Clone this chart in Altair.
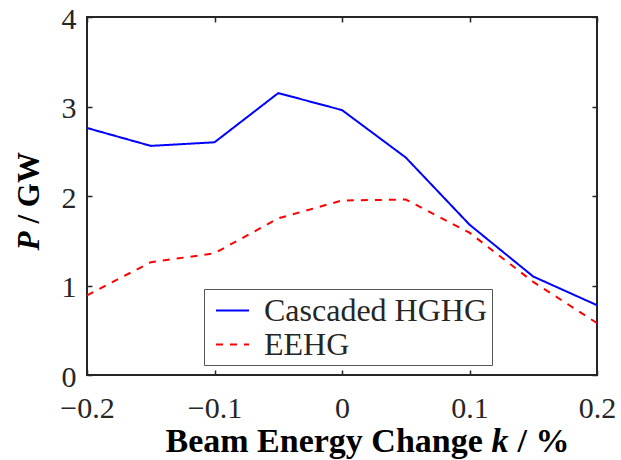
import altair as alt
import pandas as pd

# ---- data ----
k_values = [-0.2, -0.15, -0.1, -0.05, 0.0, 0.05, 0.1, 0.15, 0.2]
hghg_power = [2.76, 2.56, 2.60, 3.15, 2.96, 2.43, 1.68, 1.10, 0.78]
eehg_power = [0.89, 1.26, 1.36, 1.75, 1.95, 1.96, 1.59, 1.04, 0.58]
series_names = ["Cascaded HGHG", "EEHG"]
x_ticks = [-0.2, -0.1, 0, 0.1, 0.2]
y_ticks = [0, 1, 2, 3, 4]

rows = []
for name, vals in zip(series_names, [hghg_power, eehg_power]):
    for k, p in zip(k_values, vals):
        rows.append({"k": k, "P": p, "series": name})
df = pd.DataFrame(rows)

W, H = 510, 358
FONT = "Liberation Serif"
INK = "#262626"
XT = 34   # x title font size
YT = 31   # y title font size

xs = alt.Scale(domain=[-0.2, 0.2], nice=False, zero=False)
ys = alt.Scale(domain=[0, 4], nice=False, zero=True)

legend = alt.Legend(
    orient="none", legendX=117, legendY=272, title=None, direction="vertical",
    labelFont=FONT, labelFontSize=32, labelColor=INK, labelLimit=500,
    symbolType="stroke", symbolSize=1089, symbolStrokeWidth=2, symbolOffset=7,
    labelOffset=14, padding=4, rowPadding=0,
    strokeColor="#555555", fillColor="white", cornerRadius=0,
)

color = alt.Color("series:N", scale=alt.Scale(domain=series_names, range=["#0000ff", "#ff0000"]), legend=legend)
dash = alt.StrokeDash("series:N", scale=alt.Scale(domain=series_names, range=[[1, 0], [7, 7]]), legend=legend)

title_style = dict(titleFont=FONT, titleFontWeight="bold", titleColor="black",
                   titleBaseline="alphabetic", titleAlign="left")

main = alt.Chart(df).mark_line(strokeWidth=2).encode(
    x=alt.X("k:Q", scale=xs, axis=alt.Axis(
        orient="bottom", values=x_ticks, format="~g", ticks=False, tickSize=0, domain=False, grid=False,
        labelFont=FONT, labelFontSize=30, labelColor=INK, labelPadding=18, labelBaseline="top",
        labelFlush=False, labelOverlap=False,
        title="Beam Energy Change", titleFontSize=XT, titleX=78, titleY=76, **title_style)),
    y=alt.Y("P:Q", scale=ys, axis=alt.Axis(
        orient="left", values=y_ticks, format="d", ticks=False, tickSize=0, domain=False, grid=False,
        labelFont=FONT, labelFontSize=30, labelColor=INK, labelPadding=11, labelBaseline="middle",
        labelOffset=2, labelFlush=False, labelOverlap=False,
        title="/ GW", titleFontSize=YT, titleX=-49, titleY=206, titleAngle=270, **title_style)),
    color=color,
    strokeDash=dash,
)

tick_style = dict(ticks=True, tickSize=5, tickWidth=1.5, tickColor=INK, labels=False,
                  domain=False, grid=False)

# inward ticks on the bottom and left edges (plus italic title parts)
ticks_b = alt.Chart(df).mark_line(opacity=0).encode(
    x=alt.X("k:Q", scale=xs, axis=alt.Axis(
        orient="top", offset=-H, values=x_ticks, **tick_style,
        title="k", titleFontSize=XT, titleFontStyle="italic", titleX=404, titleY=76, **title_style)),
    y=alt.Y("P:Q", scale=ys, axis=alt.Axis(
        orient="right", offset=-W, values=y_ticks, **tick_style,
        title="P", titleFontSize=YT, titleFontStyle="italic", titleX=-49, titleY=233,
        titleAngle=270, **title_style)),
    detail="series:N",
)
# inward ticks on the top and right edges (plus the end of the x title)
ticks_t = alt.Chart(df).mark_line(opacity=0).encode(
    x=alt.X("k:Q", scale=xs, axis=alt.Axis(
        orient="bottom", offset=-H, values=x_ticks, **tick_style,
        title="/ %", titleFontSize=XT, titleX=430, titleY=76 + H, **title_style)),
    y=alt.Y("P:Q", scale=ys, axis=alt.Axis(
        orient="left", offset=-W, values=y_ticks, **tick_style, title=None)),
    detail="series:N",
)

chart = alt.layer(main, ticks_b, ticks_t).resolve_axis(
    x="independent", y="independent"
).properties(
    width=W, height=H,
    autosize=alt.AutoSizeParams(type="none"),
    padding={"left": 87, "top": 17, "right": 24, "bottom": 85},
    background="white",
).configure_view(stroke=INK, strokeWidth=2)

chart.save("out.html", embed_options={"renderer": "svg", "actions": False})
